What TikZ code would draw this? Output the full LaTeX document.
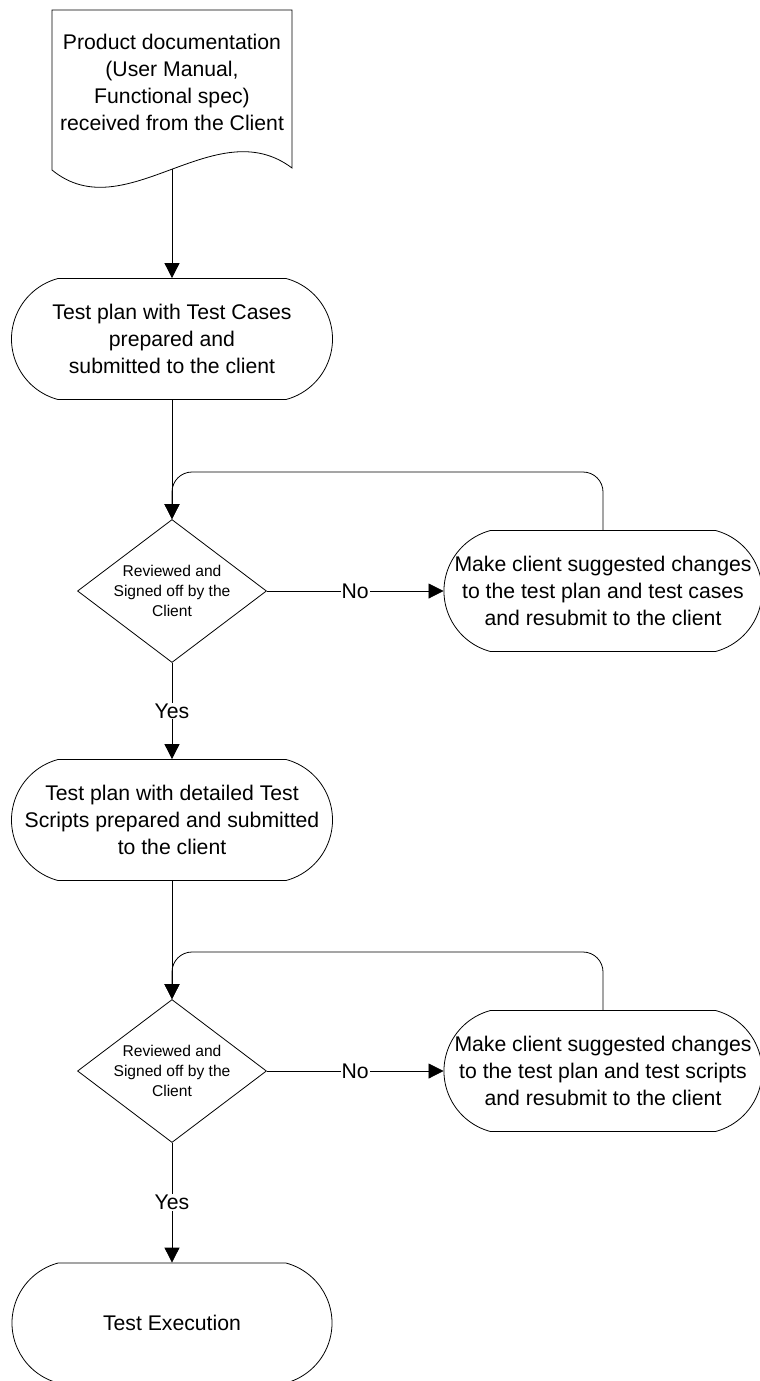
\documentclass[tikz,border=0pt]{standalone}
\usepackage{fontspec}
\setmainfont{Liberation Sans}
\usepackage{tikz}
\usetikzlibrary{shapes.geometric,shapes.misc,arrows.meta}

\newcommand{\flowfont}{\fontsize{21.2}{27}\selectfont}
\newcommand{\checkfont}{\fontsize{15.6}{20}\selectfont}

\begin{document}
\begin{tikzpicture}[x=1pt,y=1pt,line width=0.8pt,
        doc node/.style={align=center,font=\flowfont,inner sep=0pt},
        term node/.style={rounded rectangle,rounded rectangle arc length=150,draw,align=center,font=\flowfont,
          inner sep=0pt,minimum width=321pt,minimum height=121pt},
        fix node/.style={term node,minimum width=318pt},
        check node/.style={diamond,draw,aspect=1.32,inner sep=0pt,minimum width=189pt,minimum height=143pt,align=center,font=\checkfont},
        flow edge/.style={-{Triangle[width=15pt,length=15pt]}},
        answer/.style={fill=white,inner sep=1pt,font=\flowfont}
      ]
      \useasboundingbox (0,0) rectangle (760,-1381);

      % document at the top
      \node[doc node] (docs) at (172,-82) {Product documentation\\(User Manual,\\Functional spec)\\received from the Client};
      \draw (52,-10) -- (292,-10) -- (292,-168) .. controls (215,-110) and (125,-230) .. (52,-170) -- cycle;
      \coordinate (docs end) at (172,-169);

      % first review round
      \node[term node] (plan1) at (172,-339) {Test plan with Test Cases\\prepared and\\submitted to the client};
      \node[check node] (review1) at (172,-591) {Reviewed and\\Signed off by the\\Client};
      \node[fix node] (fix1) at (603,-591) {Make client suggested changes\\to the test plan and test cases\\and resubmit to the client};
      \coordinate (loop1) at (172,-472);

      % second review round
      \node[term node] (plan2) at (172,-820) {Test plan with detailed Test\\Scripts prepared and submitted\\to the client};
      \node[check node] (review2) at (172,-1071) {Reviewed and\\Signed off by the\\Client};
      \node[fix node] (fix2) at (603,-1071) {Make client suggested changes\\to the test plan and test scripts\\and resubmit to the client};
      \coordinate (loop2) at (172,-952);

      \node[term node,minimum width=320pt,minimum height=120pt] (exec) at (172,-1323) {Test Execution};

      % connectors
      \path[flow edge]
        (docs end) edge (plan1.north)
        (plan1.south) edge (review1.north)
        (review1.east) edge node[answer] {No} (fix1.west)
        (review1.south) edge node[answer] {Yes} (plan2.north)
        (plan2.south) edge (review2.north)
        (review2.east) edge node[answer] {No} (fix2.west)
        (review2.south) edge node[answer] {Yes} (exec.north);
      \draw[flow edge,rounded corners=20pt] (fix1.north) |- (loop1) -- (review1.north);
      \draw[flow edge,rounded corners=20pt] (fix2.north) |- (loop2) -- (review2.north);
    \end{tikzpicture}
\end{document}
